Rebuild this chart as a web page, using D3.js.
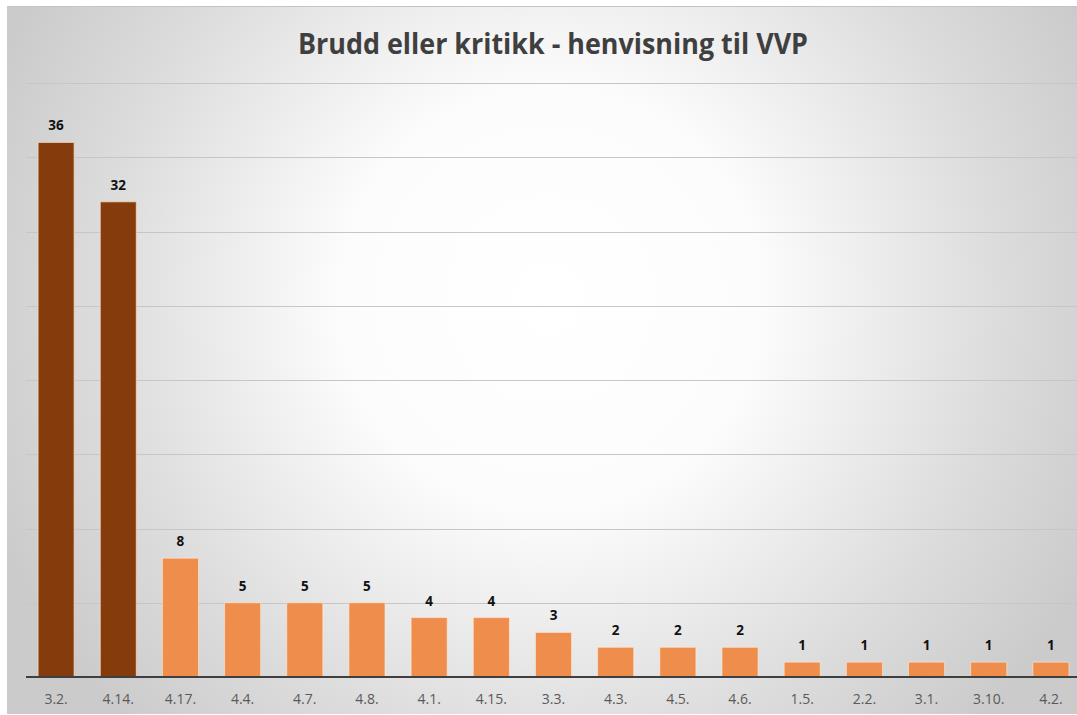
<!DOCTYPE html>
<html><head><meta charset="utf-8">
<script src="https://cdn.jsdelivr.net/npm/d3@7"></script>
<style>html,body{margin:0;padding:0;background:#fff;overflow:hidden}</style>
</head><body>
<script>
const categories = ["3.2.","4.14.","4.17.","4.4.","4.7.","4.8.","4.1.","4.15.","3.3.","4.3.","4.5.","4.6.","1.5.","2.2.","3.1.","3.10.","4.2."];
const values = [36,32,8,5,5,5,4,4,3,2,2,2,1,1,1,1,1];
const highlighted = ["3.2.","4.14."];
const gridTicks = [5,10,15,20,25,30,35,40];
const title = "Brudd eller kritikk - henvisning til VVP";

const W = 1077, H = 715;
const svg = d3.select("body").append("svg").attr("width", W).attr("height", H);
const defs = svg.append("defs");
const rg = defs.append("radialGradient").attr("id","bg").attr("gradientUnits","userSpaceOnUse")
  .attr("cx",550).attr("cy",300).attr("r",600);
rg.append("stop").attr("offset",0).attr("stop-color","#ffffff");
rg.append("stop").attr("offset",0.35).attr("stop-color","#fcfcfc");
rg.append("stop").attr("offset",0.75).attr("stop-color","#dcdcdc");
rg.append("stop").attr("offset",1).attr("stop-color","#cbcbcb");

svg.append("rect").attr("x",7).attr("y",6).attr("width",W-7).attr("height",H-7).attr("fill","url(#bg)");
svg.append("line").attr("x1",7).attr("x2",W).attr("y1",6.5).attr("y2",6.5).attr("stroke","#c4c4c4");

const x = d3.scaleBand().domain(categories).range([25, 1082]).paddingInner(0.42).paddingOuter(0.21);
const y = d3.scaleLinear().domain([0,40]).range([677, 83]);

svg.append("g").selectAll("line").data(gridTicks).join("line")
  .attr("x1",26).attr("x2",W).attr("y1",d=>Math.round(y(d))+0.5).attr("y2",d=>Math.round(y(d))+0.5)
  .attr("stroke","#c6c6c6").attr("stroke-width",1.2);

svg.append("g").selectAll("rect").data(values).join("rect")
  .attr("x",(d,i)=>x(categories[i]))
  .attr("width",x.bandwidth())
  .attr("y",d=>y(d))
  .attr("height",d=>y(0)-y(d))
  .attr("fill",(d,i)=>highlighted.includes(categories[i]) ? "#843c0c" : "#ee8d4c")
  .attr("stroke",(d,i)=>highlighted.includes(categories[i]) ? "rgba(250,215,190,0.8)" : "rgba(255,235,215,0.6)")
  .attr("stroke-width",1);

svg.append("line").attr("x1",26).attr("x2",W).attr("y1",y(0)).attr("y2",y(0))
  .attr("stroke","#3f3f3f").attr("stroke-width",2);

svg.append("g").selectAll("text").data(values).join("text")
  .attr("x",(d,i)=>x(categories[i])+x.bandwidth()/2)
  .attr("y",d=>y(d)-12)
  .attr("text-anchor","middle")
  .attr("font-family","'Open Sans', sans-serif").attr("font-weight","bold").attr("font-size",13.5)
  .attr("fill","#111").text(d=>d);

const xAxis = d3.axisBottom(x).tickSize(0).tickPadding(0);
const ax = svg.append("g").attr("transform",`translate(0,${y(0)})`).call(xAxis);
ax.select(".domain").remove();
ax.selectAll("text").attr("dy",0).attr("y",27)
  .attr("font-family","'Open Sans', sans-serif").attr("font-size",14).attr("fill","#5a5a5a");

svg.append("text").attr("x",553).attr("y",54).attr("text-anchor","middle")
  .attr("font-family","'Open Sans', sans-serif").attr("font-weight","bold").attr("font-size",28)
  .attr("fill","#3f3f3f").attr("textLength",510).attr("lengthAdjust","spacingAndGlyphs").text(title);
</script>
</body></html>
